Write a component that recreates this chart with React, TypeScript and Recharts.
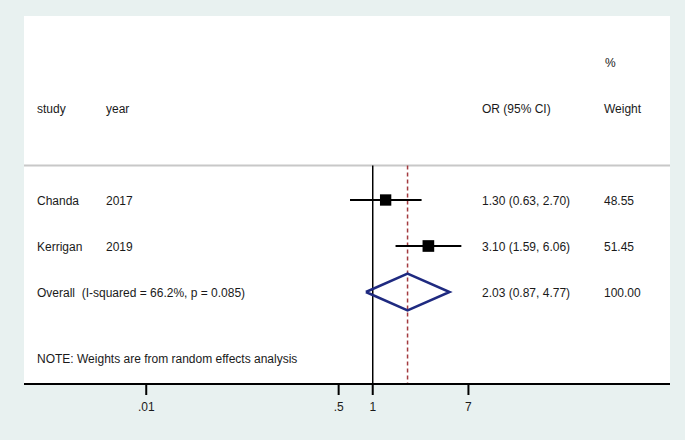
import { CartesianGrid, ComposedChart, Line, ReferenceLine, Scatter, XAxis, YAxis } from 'recharts'

// study rows (row index on the hidden y axis)
const studies = ['Chanda', 'Kerrigan']
const years = ['2017', '2019']
const orValues = [1.3, 3.1]
const ciLow = [0.63, 1.59]
const ciHigh = [2.7, 6.06]
const weights = [48.55, 51.45]
const studyRows = [1, 2]

// pooled estimate
const overallLabel = 'Overall  (I-squared = 66.2%, p = 0.085)'
const overallOr = 2.03
const overallLow = 0.87
const overallHigh = 4.77
const overallRow = 3

const xTicks = [0.01, 0.5, 1, 7]
const xTickLabels = ['.01', '.5', '1', '7']
const noteText = 'NOTE: Weights are from random effects analysis'

const fmt = (v: number) => v.toFixed(2)

const FONT = '"Liberation Sans", Arial, Helvetica, sans-serif'
const TEXT = '#1a1a1a'
const COL = { study: 37, year: 106, ci: 482, weight: 604 }

const textRows = [
  { x: 1, y: -2, cells: [{ c: COL.weight + 1, t: '%' }] },
  {
    x: 1, y: -1, cells: [
      { c: COL.study, t: 'study' }, { c: COL.year, t: 'year' },
      { c: COL.ci, t: 'OR (95% CI)' }, { c: COL.weight, t: 'Weight' }
    ]
  },
  ...studies.map((s, i) => ({
    x: 1, y: studyRows[i], cells: [
      { c: COL.study, t: s }, { c: COL.year, t: years[i] },
      { c: COL.ci, t: `${fmt(orValues[i])} (${fmt(ciLow[i])}, ${fmt(ciHigh[i])})` },
      { c: COL.weight, t: fmt(weights[i]) }
    ]
  })),
  {
    x: 1, y: overallRow, cells: [
      { c: COL.study, t: overallLabel },
      { c: COL.ci, t: `${fmt(overallOr)} (${fmt(overallLow)}, ${fmt(overallHigh)})` },
      { c: COL.weight, t: '100.00' }
    ]
  },
  { x: 1, y: 4.43, cells: [{ c: COL.study, t: noteText }] }
]

const squares = studies.map((_, i) => ({ x: orValues[i], y: studyRows[i], w: weights[i] }))

const diamond = [
  { x: overallLow, y: overallRow },
  { x: overallOr, y: overallRow - 0.4 },
  { x: overallHigh, y: overallRow },
  { x: overallOr, y: overallRow + 0.4 },
  { x: overallLow, y: overallRow }
]

const TextRow = (props: any) => {
  const { cy, payload } = props
  return (
    <g>
      {payload.cells.map((cell: any, i: number) => (
        <text
          key={i}
          x={cell.c}
          y={cy + 1}
          dominantBaseline="central"
          fontSize={12}
          fontFamily={FONT}
          fill={TEXT}
          style={{ whiteSpace: 'pre' }}
        >
          {cell.t}
        </text>
      ))}
    </g>
  )
}

const Square = (props: any) => {
  const { cx, cy, payload } = props
  const side = 11.5 * Math.sqrt(payload.w / 50)
  return <rect x={cx - side / 2} y={cy - side / 2} width={side} height={side} fill="#000" />
}

export default function App() {
  return (
    <div style={{ position: 'absolute', left: 0, top: 0, width: 685, height: 440, background: '#e8f1f0' }}>
      <ComposedChart width={685} height={440} margin={{ top: 16, right: 15, bottom: 26, left: 24 }}>
        <CartesianGrid horizontal={false} vertical={false} fill="#ffffff" />
        <XAxis
          dataKey="x"
          type="number"
          scale="log"
          domain={[0.000833, 421.6]}
          allowDataOverflow
          ticks={xTicks}
          tickFormatter={(v: number) => xTickLabels[xTicks.indexOf(v)] ?? String(v)}
          height={30}
          axisLine={{ stroke: '#000', strokeWidth: 2 }}
          tickLine={{ stroke: '#000', strokeWidth: 2 }}
          tickSize={11}
          tickMargin={7}
          tick={{ fill: TEXT, fontSize: 12, fontFamily: FONT }}
        />
        <YAxis dataKey="y" type="number" domain={[-3, 5]} reversed hide allowDataOverflow width={0} />
        <ReferenceLine y={0.25} stroke="#c8c8c8" strokeWidth={2} />
        <ReferenceLine segment={[{ x: 1, y: 0.25 }, { x: 1, y: 5 }]} stroke="#000" strokeWidth={1.5} />
        <ReferenceLine
          segment={[{ x: overallOr, y: 0.25 }, { x: overallOr, y: 5 }]}
          stroke="#a33a3f"
          strokeWidth={1.5}
          strokeDasharray="4 3"
        />
        {studies.map((s, i) => (
          <Line
            key={s}
            data={[{ x: ciLow[i], y: studyRows[i] }, { x: ciHigh[i], y: studyRows[i] }]}
            dataKey="y"
            stroke="#000"
            strokeWidth={2}
            dot={false}
            activeDot={false}
            isAnimationActive={false}
          />
        ))}
        <Scatter data={squares} dataKey="y" shape={Square} isAnimationActive={false} />
        <Line
          data={diamond}
          dataKey="y"
          stroke="#1f2a80"
          strokeWidth={2.5}
          strokeLinejoin="miter"
          dot={false}
          activeDot={false}
          isAnimationActive={false}
        />
        <Scatter data={textRows} dataKey="y" shape={TextRow} isAnimationActive={false} />
      </ComposedChart>
    </div>
  )
}
